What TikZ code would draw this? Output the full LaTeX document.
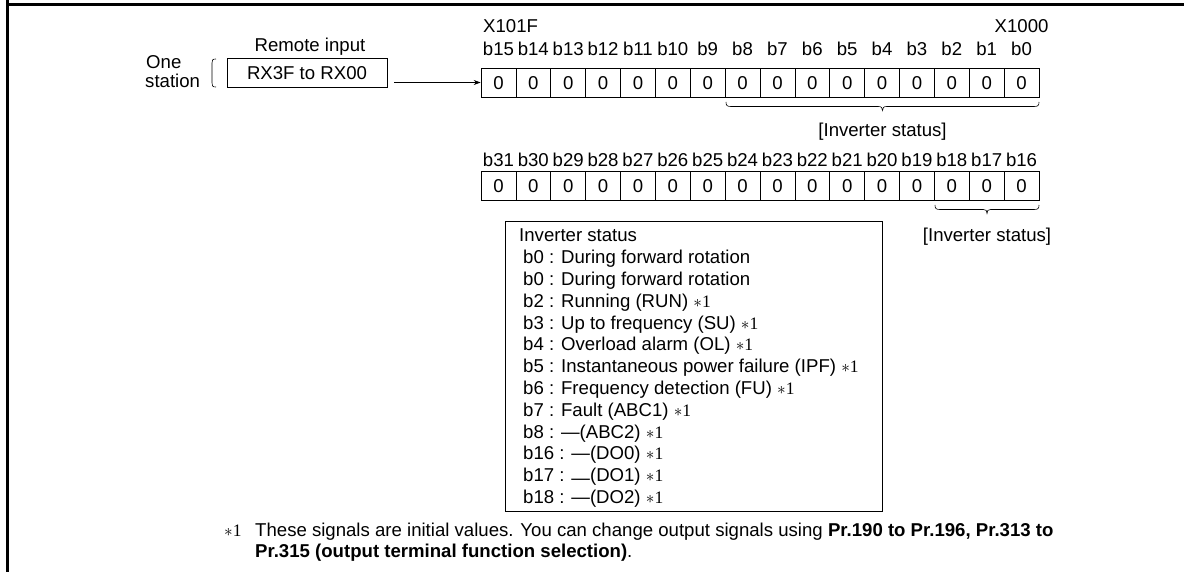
\documentclass[tikz,border=0pt]{standalone}
\usepackage{fontspec}
\setmainfont{Liberation Sans}
\newfontfamily\tms{Liberation Serif}
\usetikzlibrary{arrows.meta}
\newcommand{\fnm}{{\tms\fontsize{17.5}{17.5}\selectfont$\ast$1}}
\begin{document}
\begin{tikzpicture}[x=1pt,y=-1pt,font=\fontsize{18.6}{22}\selectfont,
  txt/.style={inner sep=0pt,text height=13.3pt,text depth=0pt},
  cell/.style={draw,line width=0.7pt,minimum width=34.875pt,minimum height=29pt,inner sep=0pt,text height=13.3pt,text depth=0pt},
  thinline/.style={line width=0.7pt},
  brc/.style={line width=0.6pt},
  frame/.style={line width=2.5pt}]
\useasboundingbox (0,0) rectangle (1184,572);
% frame
\draw[frame] (7.5,0) -- (7.5,572);
\draw[frame] (6.25,4.5) -- (1184,4.5);
% bit cells
\foreach \i in {0,...,15}{
  \pgfmathsetmacro\cx{481+34.875*(\i+0.5)}
  \pgfmathtruncatemacro\ba{15-\i}
  \pgfmathtruncatemacro\bb{31-\i}
  \node[cell] (a\i) at (\cx,82.5) {0};
  \node[txt] (la\i) at (\cx,49) {b\ba};
  \node[cell] (c\i) at (\cx,186) {0};
  \node[txt] (lc\i) at (\cx,159.5) {b\bb};
}
\node[txt,anchor=west] (x1) at (483,26) {X101F};
\node[txt] (x2) at (1021.6,26) {X1000};
% left cluster
\node[txt] (ri) at (310,45) {Remote input};
\node[draw,thinline,minimum width=160pt,minimum height=29pt,inner sep=0pt,text height=13.3pt,text depth=0pt] (rx) at (307,72.5) {RX3F to RX00};
\node[txt,anchor=west] (one) at (146,62) {One};
\node[txt,anchor=west] (st) at (145,81) {station};
\draw[brc] (216,59) .. controls (212.5,59) and (212,60) .. (212,63) -- (212,83) .. controls (212,86) and (212.5,87) .. (216,87);
\coordinate (as) at (394,82.5);
\draw[thinline,-{Stealth[length=7pt,width=5pt]}] (as) -- (a0.west);
% braces
\draw[brc] (726,102) .. controls (726,105.5) and (727,106.5) .. (731,106.5) -- (878,106.5) .. controls (881.5,106.5) and (882.5,107.5) .. (882.5,110.5) .. controls (882.5,107.5) and (883.5,106.5) .. (887,106.5) -- (1034,106.5) .. controls (1038,106.5) and (1039,105.5) .. (1039,102);
\node[txt] (is1) at (882.5,129.5) {[Inverter status]};
\draw[brc] (935,205) .. controls (935,208.5) and (936,209.5) .. (940,209.5) -- (983.5,209.5) .. controls (986,209.5) and (987,210.5) .. (987,213.5) .. controls (987,210.5) and (988,209.5) .. (990.5,209.5) -- (1034,209.5) .. controls (1038,209.5) and (1039,208.5) .. (1039,205);
\node[txt] (is2) at (987,235) {[Inverter status]};
% status box
\node[draw,thinline,minimum width=377pt,minimum height=290pt,anchor=north west,inner sep=0pt] (sb) at (505,221) {};
\node[txt,anchor=west] (hd) at (519,235) {Inverter status};
\foreach \t [count=\k from 0] in {
  {b0 : During forward rotation},
  {b0 : During forward rotation},
  {b2 : Running (RUN) \fnm},
  {b3 : Up to frequency (SU) \fnm},
  {b4 : Overload alarm (OL) \fnm},
  {b5 : Instantaneous power failure (IPF) \fnm},
  {b6 : Frequency detection (FU) \fnm},
  {b7 : Fault (ABC1) \fnm},
  {b8 : —(ABC2) \fnm},
  {b16 : —(DO0) \fnm},
  {b17 : \raisebox{-0.3ex}{—}(DO1) \fnm},
  {b18 : —(DO2) \fnm}}{
  \node[txt,anchor=west] (l\k) at (523,{257+21.8*\k}) {\t};
}
% footnote
\node[txt,anchor=west] (fm) at (224,530) {\fnm};
\node[txt,anchor=west] (f1) at (255,530) {These signals are initial values. You can change output signals using \textbf{Pr.190 to Pr.196, Pr.313 to}};
\node[txt,anchor=west] (f2) at (255,551) {\textbf{Pr.315 (output terminal function selection)}.};
\end{tikzpicture}
\end{document}
